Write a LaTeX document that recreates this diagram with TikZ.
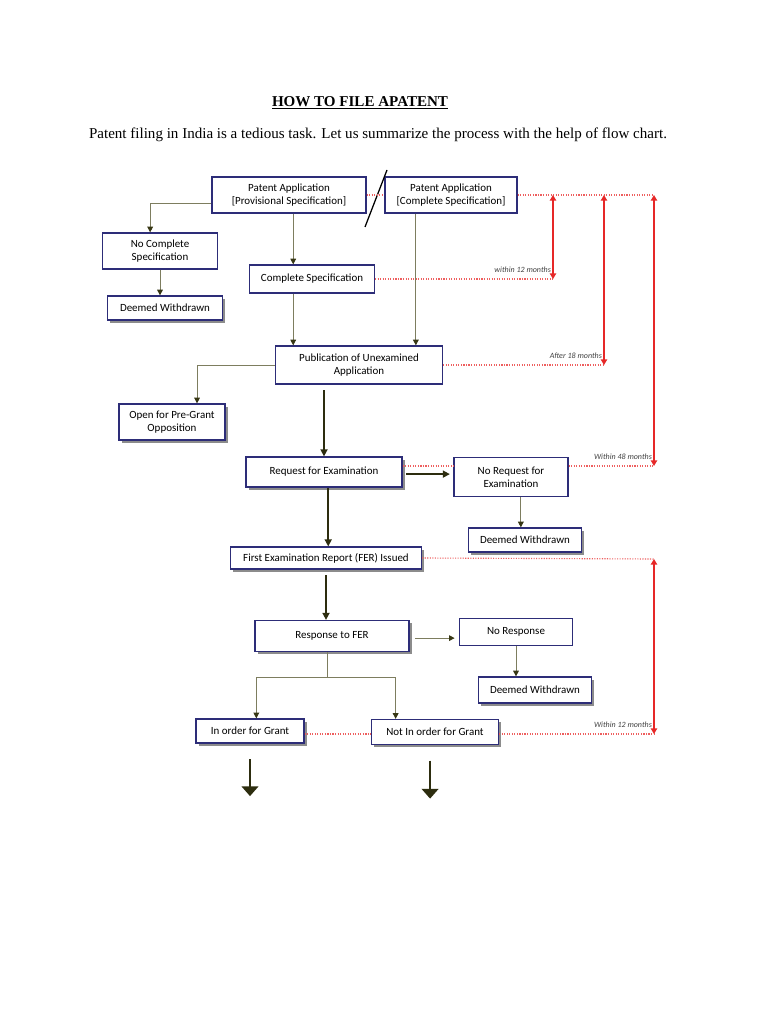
\documentclass[tikz,border=0pt]{standalone}
\usepackage{fontspec}
\setmainfont{Liberation Serif}
\newfontfamily\boxfont{Carlito}
\usetikzlibrary{arrows.meta,shadows}

\definecolor{boxblue}{RGB}{45,45,120}
\definecolor{shadowgray}{RGB}{140,140,140}
\definecolor{lineolive}{RGB}{125,125,95}
\definecolor{headolive}{RGB}{55,55,20}
\definecolor{darkolive}{RGB}{45,45,15}
\definecolor{redline}{RGB}{230,40,40}
\definecolor{reddot}{RGB}{238,95,95}

\tikzset{
  box/.style={draw=boxblue, fill=white, line width=0.9pt, align=center, inner sep=1pt,
    font=\boxfont\fontsize{7.8}{9.4}\selectfont},
  sbox/.style={box, drop shadow={shadow xshift=1.8pt, shadow yshift=-1.8pt, fill=shadowgray, opacity=1}},
  flow/.style={draw=lineolive, line width=0.6pt, -{Triangle[width=4pt,length=4pt,color=headolive]}},
  thickflow/.style={draw=darkolive, line width=1.1pt, -{Triangle[width=5pt,length=5pt]}},
  bigarrow/.style={draw=darkolive, line width=1.3pt, -{Triangle[width=12pt,length=7pt]}},
  reddots/.style={draw=reddot, line width=0.8pt, densely dotted},
  redarrow/.style={draw=redline, line width=0.9pt, {Triangle[width=4.5pt,length=4pt]}-{Triangle[width=4.5pt,length=4pt]}},
  mlabel/.style={pos=1, anchor=south east, inner sep=1pt, yshift=3pt, text=black!75,
    font=\boxfont\itshape\fontsize{5.7}{6}\selectfont}
}

\begin{document}
\begin{tikzpicture}[x=0.025cm,y=-0.025cm]
\useasboundingbox[fill=white] (0,0) rectangle (768,1024);

% Heading
\node (title) at (360,103) {\fontsize{10.7}{12}\selectfont\textbf{\underline{HOW TO FILE APATENT}}};
\node (intro) at (378,135) {\fontsize{10.7}{12}\selectfont Patent filing in India is a tedious task. Let us summarize the process with the help of flow chart.};

% Filing
\node[box, minimum width=3.85cm, minimum height=0.9cm] (prov) at (289,195) {Patent Application\\{[Provisional Specification]}};
\node[box, minimum width=3.3cm, minimum height=0.9cm] (comp) at (451,195) {Patent Application\\{[Complete Specification]}};
\draw[line width=0.9pt] (365,227) -- (387,170);

\node[box, minimum width=2.875cm, minimum height=0.9cm] (nocomp) at (160,251) {No Complete\\Specification};
\node[sbox, minimum width=2.875cm, minimum height=0.6cm] (dw1) at (165,308) {Deemed Withdrawn};
\node[box, minimum width=3.125cm, minimum height=0.7cm] (compspec) at (312,279) {Complete Specification};

% Publication
\node[box, minimum width=4.175cm, minimum height=0.95cm] (pub) at (359,365) {Publication of Unexamined\\Application};
\node[sbox, minimum width=2.65cm, minimum height=0.9cm] (open) at (172,422) {Open for Pre-Grant\\Opposition};

% Examination
\node[sbox, minimum width=3.9cm, minimum height=0.75cm] (req) at (324,472) {Request for Examination};
\node[box, minimum width=2.85cm, minimum height=0.975cm] (noreq) at (511,477) {No Request for\\Examination};
\node[sbox, minimum width=2.825cm, minimum height=0.6cm] (dw2) at (525,540) {Deemed Withdrawn};
\node[sbox, minimum width=4.775cm, minimum height=0.55cm] (fer) at (326,558) {First Examination Report (FER) Issued};

% Response
\node[sbox, minimum width=3.85cm, minimum height=0.775cm] (resp) at (332,636) {Response to FER};
\node[box, minimum width=2.825cm, minimum height=0.675cm] (nores) at (516,632) {No Response};
\node[sbox, minimum width=2.825cm, minimum height=0.65cm] (dw3) at (535,690) {Deemed Withdrawn};
\node[sbox, minimum width=2.7cm, minimum height=0.6cm] (grant) at (250,731) {In order for Grant};
\node[sbox, minimum width=3.175cm, minimum height=0.625cm] (notgrant) at (435,732) {Not In order for Grant};

% Flow arrows
\draw[flow] ([yshift=-6pt]prov.west) -| ([xshift=-7pt]nocomp.north);
\draw[flow] (nocomp.south) -- (nocomp.south |- dw1.north);
\draw[flow] ([xshift=3pt]prov.south) -- ([xshift=3pt]prov.south |- compspec.north);
\draw[flow] ([xshift=3pt]prov.south |- compspec.south) -- ([xshift=3pt]prov.south |- pub.north);
\draw[flow] ([xshift=-25pt]comp.south) -- ([xshift=-25pt]comp.south |- pub.north);
\draw[flow] (pub.west) -| ([xshift=17.8pt]open.north);
\draw[thickflow, shorten <=4pt] (pub.south -| req.north) -- (req.north);
\draw[thickflow, shorten <=2.5pt, shorten >=2.5pt] ([yshift=-1.5pt]req.east) -- ([yshift=-1.5pt]req.east -| noreq.west);
\draw[flow] ([xshift=7pt]noreq.south) -- ([xshift=7pt]noreq.south |- dw2.north);
\draw[thickflow] ([xshift=3pt]req.south) -- ([xshift=3pt]req.south |- fer.north);
\draw[thickflow, shorten <=4pt] (fer.south) -- (fer.south |- resp.north);
\draw[flow, shorten <=4pt, shorten >=3pt] ([yshift=-1.5pt]resp.east) -- ([yshift=-1.5pt]resp.east -| nores.west);
\draw[flow] (nores.south) -- (nores.south |- dw3.north);
\draw[lineolive, line width=0.6pt] ([xshift=-3.5pt]resp.south) -- ++(0,25) coordinate (split);
\draw[flow] (split) -| ([xshift=4.5pt]grant.north);
\draw[flow] (split) -| ([xshift=-28pt]notgrant.north);
\draw[bigarrow] ([yshift=-11pt]grant.south) -- ++(0,37);
\draw[bigarrow] ([xshift=-3.5pt,yshift=-11pt]notgrant.south) -- ++(0,38);

% Time limits
\coordinate (m12) at (553,195);
\coordinate (m18) at (604,195);
\coordinate (m48) at (654,195);
\coordinate (d48) at (654,466);
\coordinate (f12) at (654,559);
\coordinate (g12) at (654,734);

\draw[reddots] (prov.east) -- (comp.west);
\draw[reddots] (comp.east) -- (m48);
\draw[reddots] (compspec.east) -- (compspec.east -| m12);
\draw[reddots] (pub.east) -- (pub.east -| m18);
\draw[reddots] (req.east |- d48) -- (noreq.west |- d48);
\draw[reddots] (noreq.east |- d48) -- (d48);
\draw[reddots] (fer.east) -- (f12);
\draw[reddots] (grant.east |- g12) -- (notgrant.west |- g12);
\draw[reddots] (notgrant.east |- g12) -- (g12);

\draw[redarrow] (m12) -- (compspec.east -| m12) node[mlabel] {within 12 months};
\draw[redarrow] (m18) -- (pub.east -| m18) node[mlabel] {After 18 months};
\draw[redarrow] (m48) -- (d48) node[mlabel] {Within 48 months};
\draw[redarrow] (f12) -- (g12) node[mlabel] {Within 12 months};

\end{tikzpicture}
\end{document}
